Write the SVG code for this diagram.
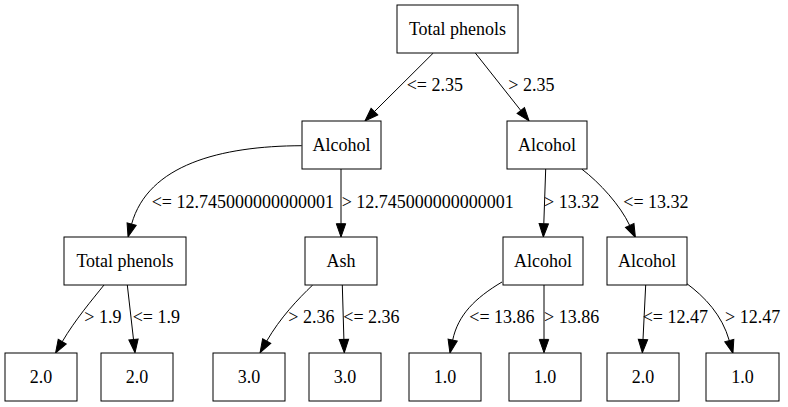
<svg xmlns="http://www.w3.org/2000/svg" width="788" height="407" viewBox="0 0 788 407">
<style>
.n rect{fill:#fff;stroke:#000;stroke-width:1}
.n text{font-family:'Liberation Serif',Tinos,'Noto Serif','DejaVu Serif','Times New Roman',Times,serif;font-size:18px;text-anchor:middle;fill:#000}
.e path{fill:none;stroke:#000;stroke-width:1}
.l{font-family:'Liberation Serif',Tinos,'Noto Serif','DejaVu Serif','Times New Roman',Times,serif;font-size:18px;fill:#000}
</style>
<defs>
<marker id="ah" markerUnits="userSpaceOnUse" markerWidth="16" markerHeight="12" refX="0" refY="0" viewBox="-1 -6 16 12" orient="auto" overflow="visible">
<path d="M0,-4.7 L13.3,0 L0,4.7 z" fill="#000" stroke="#000" stroke-width="1"/>
</marker>
</defs>
<rect width="788" height="407" fill="#fff"/>
<g id="edges" class="e">
<path marker-end="url(#ah)" d="M433.3,53 L374.4,111.6"/>
<path marker-end="url(#ah)" d="M475.3,53 L520.8,110.5"/>
<path marker-end="url(#ah)" d="M301.7,145.7 C220,146 148,165 131.6,224.1"/>
<path marker-end="url(#ah)" d="M341,169 L341,223.7"/>
<path marker-end="url(#ah)" d="M545.7,169 L543.8,223.7"/>
<path marker-end="url(#ah)" d="M581.7,169 C600,183 620,205 629.7,225.4"/>
<path marker-end="url(#ah)" d="M104,285 C92,300 75,320 62.3,341.6"/>
<path marker-end="url(#ah)" d="M127.3,285 L133.5,339.5"/>
<path marker-end="url(#ah)" d="M312.7,285 C298,299 280,318 266.7,341.1"/>
<path marker-end="url(#ah)" d="M342.3,285 L343.9,339.4"/>
<path marker-end="url(#ah)" d="M502,282 C475,298 458,315 452.7,340"/>
<path marker-end="url(#ah)" d="M544,285 L544,339.4"/>
<path marker-end="url(#ah)" d="M645.7,285 L643,339.4"/>
<path marker-end="url(#ah)" d="M686,283 C705,297 722,315 729.3,340.6"/>
<text class="l" x="406.7" y="90.7">&lt;= 2.35</text>
<text class="l" x="508.3" y="90.7">&gt; 2.35</text>
<text class="l" x="151.7" y="207.5">&lt;= 12.745000000000001</text>
<text class="l" x="341.7" y="207.5">&gt; 12.745000000000001</text>
<text class="l" x="544" y="207.5">&gt; 13.32</text>
<text class="l" x="623.3" y="207.5">&lt;= 13.32</text>
<text class="l" x="84.3" y="323.3">&gt; 1.9</text>
<text class="l" x="132.7" y="323.3">&lt;= 1.9</text>
<text class="l" x="288.3" y="323.3">&gt; 2.36</text>
<text class="l" x="343.3" y="323.3">&lt;= 2.36</text>
<text class="l" x="469.3" y="323.3">&lt;= 13.86</text>
<text class="l" x="544" y="323.3">&gt; 13.86</text>
<text class="l" x="642.7" y="323.3">&lt;= 12.47</text>
<text class="l" x="725" y="323.3">&gt; 12.47</text>
</g>
<g id="n0" class="n"><rect x="397" y="5" width="121" height="48"/><text x="457.5" y="34.5">Total phenols</text></g>
<g id="n1" class="n"><rect x="302" y="121" width="79" height="48"/><text x="341.5" y="150.5">Alcohol</text></g>
<g id="n2" class="n"><rect x="507" y="121" width="80" height="48"/><text x="547" y="150.5">Alcohol</text></g>
<g id="n3" class="n"><rect x="64" y="237" width="122" height="48"/><text x="125" y="266.5">Total phenols</text></g>
<g id="n4" class="n"><rect x="305" y="237" width="72" height="48"/><text x="341" y="266.5">Ash</text></g>
<g id="n5" class="n"><rect x="503" y="237" width="80" height="48"/><text x="543" y="266.5">Alcohol</text></g>
<g id="n6" class="n"><rect x="607" y="237" width="80" height="48"/><text x="647" y="266.5">Alcohol</text></g>
<g id="n7" class="n"><rect x="5" y="353" width="72" height="48"/><text x="41" y="382.5">2.0</text></g>
<g id="n8" class="n"><rect x="101" y="353" width="72" height="48"/><text x="137" y="382.5">2.0</text></g>
<g id="n9" class="n"><rect x="213" y="353" width="72" height="48"/><text x="249" y="382.5">3.0</text></g>
<g id="n10" class="n"><rect x="309" y="353" width="72" height="48"/><text x="345" y="382.5">3.0</text></g>
<g id="n11" class="n"><rect x="409" y="353" width="72" height="48"/><text x="445" y="382.5">1.0</text></g>
<g id="n12" class="n"><rect x="509" y="353" width="72" height="48"/><text x="545" y="382.5">1.0</text></g>
<g id="n13" class="n"><rect x="607" y="353" width="72" height="48"/><text x="643" y="382.5">2.0</text></g>
<g id="n14" class="n"><rect x="706" y="353" width="73" height="48"/><text x="742.5" y="382.5">1.0</text></g>
</svg>
